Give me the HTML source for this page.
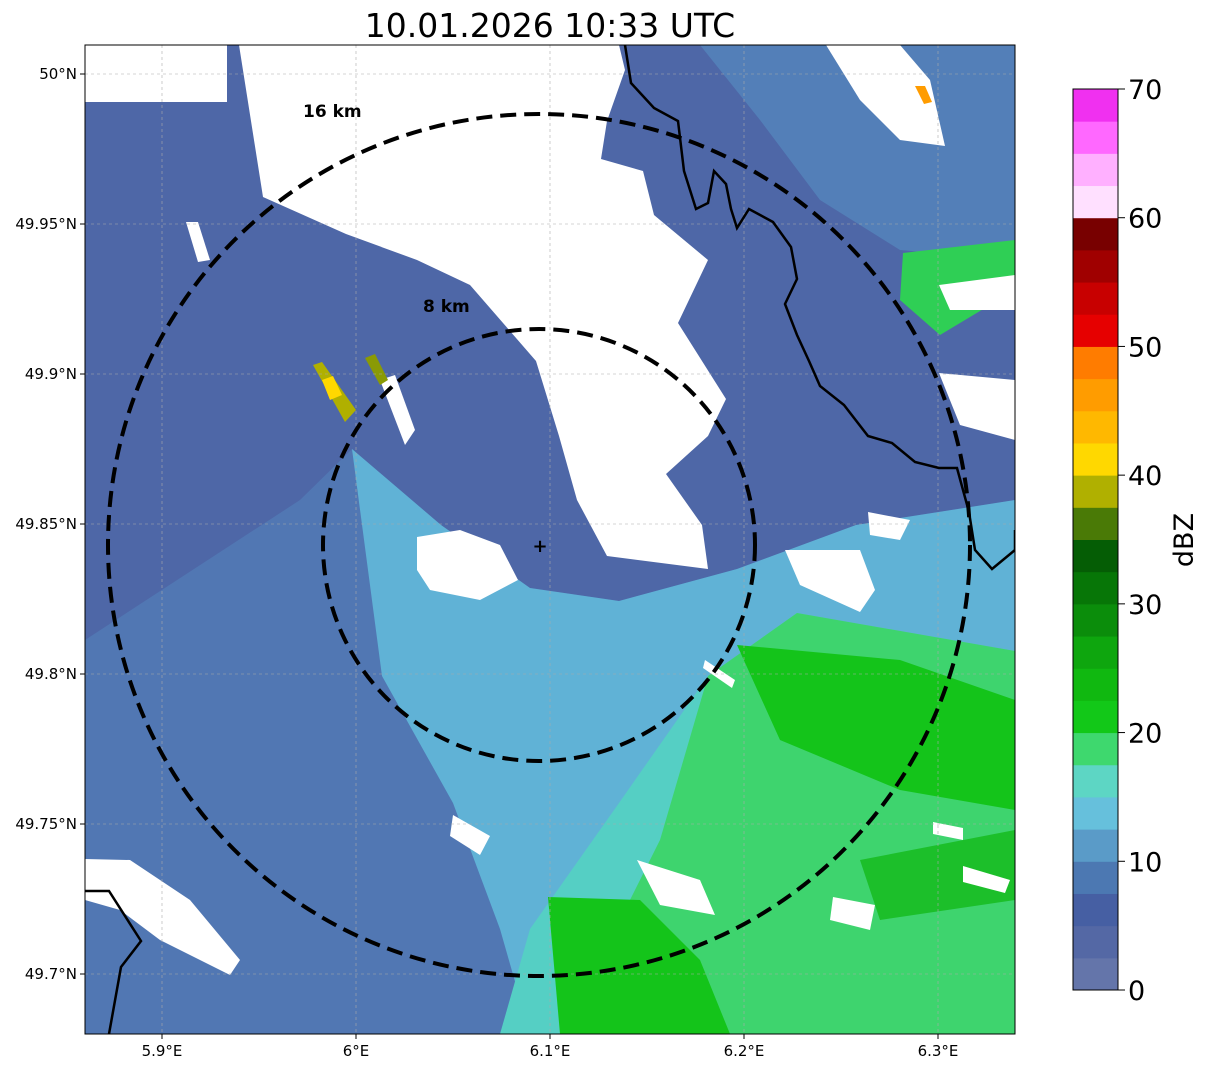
<!DOCTYPE html>
<html><head><meta charset="utf-8"><style>
body{margin:0;background:#fff;width:1207px;height:1069px;overflow:hidden;font-family:"DejaVu Sans","Liberation Sans",sans-serif}
</style></head><body>
<svg id="svg" width="1207" height="1069" viewBox="0 0 1207 1069" xmlns="http://www.w3.org/2000/svg" font-family="DejaVu Sans, Liberation Sans, sans-serif">
<text x="550" y="37" font-size="33" text-anchor="middle">10.01.2026 10:33 UTC</text>
<defs><clipPath id="mapclip"><rect x="85" y="45" width="930" height="989"/></clipPath></defs>
<g clip-path="url(#mapclip)">
<rect x="85" y="45" width="930" height="989" fill="#4e67a7"/>
<polygon fill="#5177b3" points="85,640 300,500 352,449 441,525 530,588 619,601 737,569 856,525 1015,500 1015,1034 85,1034 85,900"/>
<polygon fill="#537fb8" points="700,45 1015,45 1015,260 900,250 820,200 760,120"/>
<polygon fill="#60b2d6" points="352,449 441,525 530,588 619,601 737,569 856,525 1015,500 1015,1034 530,1034 500,929 453,803 382,676"/>
<polygon fill="#55cfc4" points="619,803 708,676 797,613 1015,651 1015,1034 500,1034 530,929"/>
<polygon fill="#3ed46e" points="708,676 797,613 1015,651 1015,1034 620,1034 600,960 660,840"/>
<polygon fill="#14c41a" points="737,645 900,660 1015,700 1015,810 900,790 780,740"/>
<polygon fill="#14c41a" points="548,897 640,900 700,960 730,1034 560,1034"/>
<polygon fill="#1cbf2a" points="860,860 1015,830 1015,900 880,920"/>
<polygon fill="#2fcf55" points="903,253 1015,240 1015,290 940,335 900,300"/>
<polygon fill="#fff" points="85,45 239,45 263,197 346,234 417,260 470,285 536,361 559,436 577,500 607,556 708,569 702,525 666,474 708,436 726,399 678,323 708,260 654,215 643,171 601,159 607,121 625,70 619,45 239,45 227,45 227,102 85,102"/>
<polygon fill="#fff" points="826,45 900,45 930,80 945,146 900,140 860,100"/>
<polygon fill="#fff" points="417,537 460,530 500,545 518,580 480,600 430,590 417,570"/>
<polygon fill="#fff" points="785,550 860,550 875,590 860,612 800,585"/>
<polygon fill="#fff" points="939,373 1015,380 1015,440 960,425"/>
<polygon fill="#fff" points="939,285 1015,275 1015,310 950,310"/>
<polygon fill="#fff" points="868,512 910,520 900,540 870,535"/>
<polygon fill="#fff" points="380,380 395,375 415,430 405,445"/>
<polygon fill="#fff" points="85,859 130,860 190,900 240,960 230,975 160,940 120,910 85,900"/>
<polygon fill="#fff" points="453,815 490,836 480,855 450,836"/>
<polygon fill="#fff" points="637,860 700,880 715,915 660,905"/>
<polygon fill="#fff" points="833,897 875,905 870,930 830,920"/>
<polygon fill="#fff" points="933,822 963,828 963,840 933,834"/>
<polygon fill="#fff" points="963,866 1010,880 1005,893 963,882"/>
<polygon fill="#fff" points="186,222 198,222 210,260 198,262"/>
<polygon fill="#fff" points="705,660 735,680 732,688 703,668"/>
<polygon fill="#b0b000" points="313,365 322,362 356,410 345,422"/>
<polygon fill="#ffd800" points="322,380 333,376 342,395 330,400"/>
<polygon fill="#8a9a05" points="365,358 375,354 388,380 380,385"/>
<polygon fill="#ff9c00" points="915,86 925,86 932,102 924,104"/>
<g id="grid" stroke="#aaa" stroke-width="0.6" stroke-dasharray="3,3"></g>
<polyline fill="none" stroke="#000" stroke-width="2.5" points="625,45 631,83 654,108 678,121 684,171 696,209 708,203 714,171 726,184 731,209 737,228 749,209 773,222 791,247 797,279 785,304 797,335 809,361 820,386 844,405 868,436 892,443 915,462 939,468 957,468 969,512 975,550 992,569 1015,550 1015,530"/>
<polyline fill="none" stroke="#000" stroke-width="2.5" points="85,891 109,891 141,941 121,967 109,1034"/>
<circle cx="539" cy="545" r="431" fill="none" stroke="#000" stroke-width="4" stroke-dasharray="16,8"/>
<circle cx="539" cy="545" r="216" fill="none" stroke="#000" stroke-width="4" stroke-dasharray="16,8"/>
<text x="303" y="117" font-size="17" font-weight="bold">16 km</text>
<text x="423" y="312" font-size="17" font-weight="bold">8 km</text>
<text x="540" y="552" font-size="18" font-weight="bold" text-anchor="middle">+</text>
</g>
<rect x="85" y="45" width="930" height="989" fill="none" stroke="#000" stroke-width="1"/>
<g id="axes"></g>
<g id="cbar"></g>
</svg>
<script>
const lonTicks=[5.9,6.0,6.1,6.2,6.3];
const lonLabels=["5.9°E","6°E","6.1°E","6.2°E","6.3°E"];
const latTicks=[50,49.95,49.9,49.85,49.8,49.75,49.7];
const latLabels=["50°N","49.95°N","49.9°N","49.85°N","49.8°N","49.75°N","49.7°N"];
const cbarColors=["#6475aa","#5468a5","#465fa3","#4c78b2","#5a9bc8","#66c0dc","#5dd6c4","#3ed86e","#12c818","#10b810","#0ea60e","#0b8d0b","#077607","#055d05","#4a7a06","#b0b000","#ffd800","#ffb800","#ff9c00","#ff7c00","#e60000","#c80000","#a00000","#780000","#ffe0ff","#ffb0ff","#ff68ff","#f030f0"];
const cbarTicks=[0,10,20,30,40,50,60,70];
const NS="http://www.w3.org/2000/svg";
function xLon(v){return 162+(v-5.9)*1940;}
function yLat(v){return 74+(50-v)*3000;}
function yDbz(v){return 990-(v/70)*901;}
function mk(tag,attrs,parent){const e=document.createElementNS(NS,tag);for(const k in attrs)e.setAttribute(k,attrs[k]);parent.appendChild(e);return e;}
const axes=document.getElementById('axes'),grid=document.getElementById('grid'),cb=document.getElementById('cbar');
lonTicks.forEach((v,i)=>{const x=xLon(v);
 const g=mk('line',{x1:x,x2:x,y1:45,y2:1034},grid);
 
 
 const t=mk('line',{x1:x,x2:x,y1:1034,y2:1039,stroke:'#000'},axes);
 
 
 const l=mk('text',{x:x,y:1056,'font-size':15,'text-anchor':'middle'},axes);l.textContent=lonLabels[i];
 
 });
latTicks.forEach((v,i)=>{const y=yLat(v);
 const g=mk('line',{x1:85,x2:1015,y1:y,y2:y},grid);
 
 
 const t=mk('line',{x1:80,x2:85,y1:y,y2:y,stroke:'#000'},axes);
 
 
 const l=mk('text',{x:77,y:y+5,'font-size':15,'text-anchor':'end'},axes);l.textContent=latLabels[i];
 
 });
cbarColors.forEach((c,i)=>{const y0=yDbz(i*2.5),y1=yDbz((i+1)*2.5);
 const r=mk('rect',{x:1073,y:y1,width:45,height:y0-y1+0.5,fill:c},cb);
 
 });
const fr=mk('rect',{x:1073,y:89,width:45,height:901,fill:'none',stroke:'#000'},cb);


cbarTicks.forEach(v=>{const y=yDbz(v);
 const t=mk('line',{x1:1118,x2:1125,y1:y,y2:y,stroke:'#000'},cb);
 
 
 const l=mk('text',{x:1128,y:y+10,'font-size':27},cb);l.textContent=v;
 
 });
const cl=mk('text',{x:1193,y:540,'font-size':27,'text-anchor':'middle',transform:'rotate(-90 1193 540)'},cb);cl.textContent='dBZ';


</script>
</body></html>
